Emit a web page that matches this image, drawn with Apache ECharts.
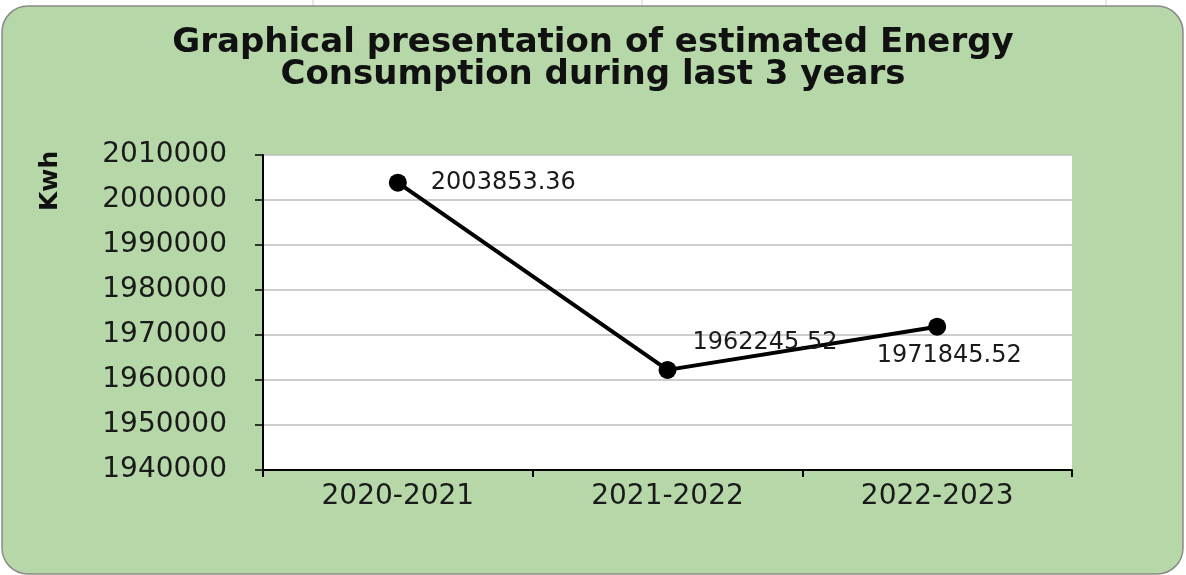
<!DOCTYPE html>
<html>

<head>
    <meta charset="utf-8">
    <title>Energy Consumption</title>
    <script src="https://cdn.jsdelivr.net/npm/echarts@6/dist/echarts.min.js"></script>
</head>
<style>
    html,
    body {
        margin: 0;
        padding: 0;
        background: #fff;
    }
    
    #chart_box {
        width: 1186px;
        height: 575px;
    }
</style>

<body>
    <div id="chart_box"></div>

    <script>
        // data
        var years = ['2020-2021', '2021-2022', '2022-2023'];
        var energy = [2003853.36, 1962245.52, 1971845.52];
        var yMin = 1940000;
        var yMax = 2010000;
        var yStep = 10000;

        // where each value label sits relative to its point
        var labelSpots = [
            { position: 'right', distance: 24, offset: [0, 0] },
            { position: 'right', distance: 16, offset: [0, -27] },
            { position: 'bottom', distance: 8, offset: [12, 0] }
        ];

        var myChart = echarts.init(document.getElementById('chart_box'));

        var points = energy.map(function(v, i) {
            return {
                value: v,
                label: labelSpots[i]
            };
        });

        var option = {
            animation: false,
            textStyle: {
                fontFamily: 'DejaVu Sans'
            },
            title: {
                text: 'Graphical presentation of estimated Energy\nConsumption during last 3 years',
                left: 'center',
                top: 22,
                textStyle: {
                    color: '#111',
                    fontFamily: 'DejaVu Sans',
                    fontWeight: 'bold',
                    fontSize: 34,
                    lineHeight: 32
                }
            },
            graphic: [{
                type: 'line',
                z: -20,
                shape: { x1: 313, y1: 0, x2: 313, y2: 8 },
                style: { stroke: '#cfcfcf', lineWidth: 1 }
            }, {
                type: 'line',
                z: -20,
                shape: { x1: 642, y1: 0, x2: 642, y2: 8 },
                style: { stroke: '#cfcfcf', lineWidth: 1 }
            }, {
                type: 'line',
                z: -20,
                shape: { x1: 1106, y1: 0, x2: 1106, y2: 8 },
                style: { stroke: '#cfcfcf', lineWidth: 1 }
            }, {
                type: 'rect',
                z: -10,
                shape: { x: 2, y: 6, width: 1181, height: 568, r: 26 },
                style: { fill: '#b6d7a8', stroke: '#8a8a8a', lineWidth: 1.5 }
            }, {
                type: 'text',
                x: 38,
                y: 211,
                rotation: Math.PI / 2,
                style: {
                    text: 'Kwh',
                    fill: '#111',
                    font: 'bold 25px "DejaVu Sans"'
                }
            }],
            grid: {
                show: true,
                left: 263,
                right: 114,
                top: 155,
                bottom: 105,
                backgroundColor: '#fff',
                borderWidth: 0
            },
            xAxis: {
                type: 'category',
                data: years,
                boundaryGap: true,
                axisLine: {
                    lineStyle: { color: '#000', width: 2 }
                },
                axisTick: {
                    show: true,
                    length: 7,
                    lineStyle: { color: '#000', width: 2 }
                },
                axisLabel: {
                    color: '#1a1a1a',
                    fontSize: 28,
                    margin: 13
                },
                splitLine: { show: false }
            },
            yAxis: {
                type: 'value',
                min: yMin,
                max: yMax,
                interval: yStep,
                axisLine: {
                    show: true,
                    lineStyle: { color: '#000', width: 2 }
                },
                axisTick: {
                    show: true,
                    length: 8,
                    lineStyle: { color: '#000', width: 1.5 }
                },
                axisLabel: {
                    color: '#1a1a1a',
                    fontSize: 28,
                    margin: 36,
                    formatter: function(v) {
                        return String(v);
                    }
                },
                splitLine: {
                    show: true,
                    lineStyle: { color: '#bdbdbd', width: 1.5 }
                }
            },
            series: [{
                name: 'Energy',
                type: 'line',
                data: points,
                symbol: 'circle',
                symbolSize: 18,
                showAllSymbol: true,
                lineStyle: { color: '#000', width: 4 },
                itemStyle: { color: '#000' },
                label: {
                    show: true,
                    color: '#1a1a1a',
                    fontSize: 24,
                    formatter: function(p) {
                        return p.value.toFixed(2);
                    }
                }
            }]
        };

        myChart.setOption(option);
    </script>
</body>

</html>
